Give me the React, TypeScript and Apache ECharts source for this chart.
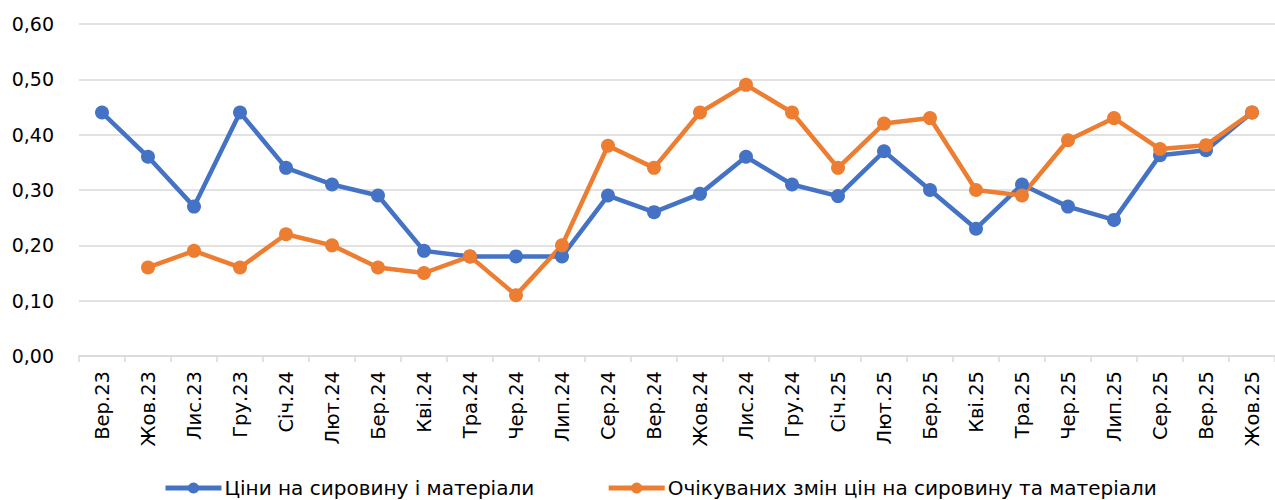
import React, { useEffect, useRef } from "react";
import * as echarts from "echarts";

const categories = [
  "Вер.23", "Жов.23", "Лис.23", "Гру.23", "Січ.24", "Лют.24", "Бер.24", "Кві.24", "Тра.24", "Чер.24",
  "Лип.24", "Сер.24", "Вер.24", "Жов.24", "Лис.24", "Гру.24", "Січ.25", "Лют.25", "Бер.25", "Кві.25",
  "Тра.25", "Чер.25", "Лип.25", "Сер.25", "Вер.25", "Жов.25",
];

const pricesSeries = [
  0.44, 0.36, 0.27, 0.44, 0.34, 0.31, 0.29, 0.19, 0.18, 0.18,
  0.18, 0.29, 0.26, 0.293, 0.36, 0.31, 0.289, 0.37, 0.30, 0.23,
  0.31, 0.27, 0.246, 0.363, 0.372, 0.44,
];

const expectedSeries = [
  null, 0.16, 0.19, 0.16, 0.22, 0.20, 0.16, 0.15, 0.18, 0.11,
  0.20, 0.38, 0.34, 0.44, 0.49, 0.44, 0.34, 0.42, 0.43, 0.30,
  0.29, 0.39, 0.43, 0.374, 0.381, 0.44,
];

const seriesNames = [
  "Ціни на сировину і матеріали",
  "Очікуваних змін цін на сировину та матеріали",
];

const FONT = "DejaVu Sans";

export default function App() {
  const ref = useRef<HTMLDivElement>(null);
  useEffect(() => {
    if (!ref.current) return;
    const chart = echarts.init(ref.current, null, { renderer: "svg" });
    chart.setOption({
      animation: false,
      textStyle: { fontFamily: FONT },
      grid: { left: 79, right: -12, top: 24, bottom: 144, containLabel: false },
      legend: {
        top: 473,
        left: 158,
        padding: 5,
        itemGap: 72,
        itemWidth: 56,
        itemHeight: 14,
        lineStyle: { width: 5 },
        textStyle: { fontSize: 20, color: "#000", fontFamily: FONT, padding: [0, 0, 0, -2] },
        data: seriesNames,
      },
      xAxis: {
        type: "category",
        data: categories,
        boundaryGap: true,
        axisLine: { show: true, lineStyle: { color: "#d9d9d9", width: 1.5 } },
        axisTick: { show: true, length: 6, lineStyle: { color: "#d9d9d9", width: 1.5 } },
        axisLabel: { rotate: 90, fontSize: 19.5, color: "#000", margin: 15, fontFamily: FONT, interval: 0 },
      },
      yAxis: {
        type: "value",
        min: 0,
        max: 0.6,
        interval: 0.1,
        axisLine: { show: false },
        axisTick: { show: false },
        splitLine: { lineStyle: { color: "#d9d9d9", width: 1.5 } },
        axisLabel: {
          fontSize: 19,
          color: "#000",
          margin: 25,
          fontFamily: FONT,
          formatter: (v: number) => v.toFixed(2).replace(".", ","),
        },
      },
      series: [
        {
          name: seriesNames[0],
          type: "line",
          data: pricesSeries,
          color: "#4472C4",
          lineStyle: { width: 4.5, color: "#4472C4" },
          symbol: "circle",
          symbolSize: 14,
          itemStyle: { color: "#4472C4" },
        },
        {
          name: seriesNames[1],
          type: "line",
          data: expectedSeries,
          color: "#ED7D31",
          lineStyle: { width: 4.5, color: "#ED7D31" },
          symbol: "circle",
          symbolSize: 14,
          itemStyle: { color: "#ED7D31" },
        },
      ],
    });
    return () => chart.dispose();
  }, []);
  return (
    <div
      ref={ref}
      style={{ position: "absolute", left: 0, top: 0, width: 1275, height: 500, background: "#fff" }}
    />
  );
}
